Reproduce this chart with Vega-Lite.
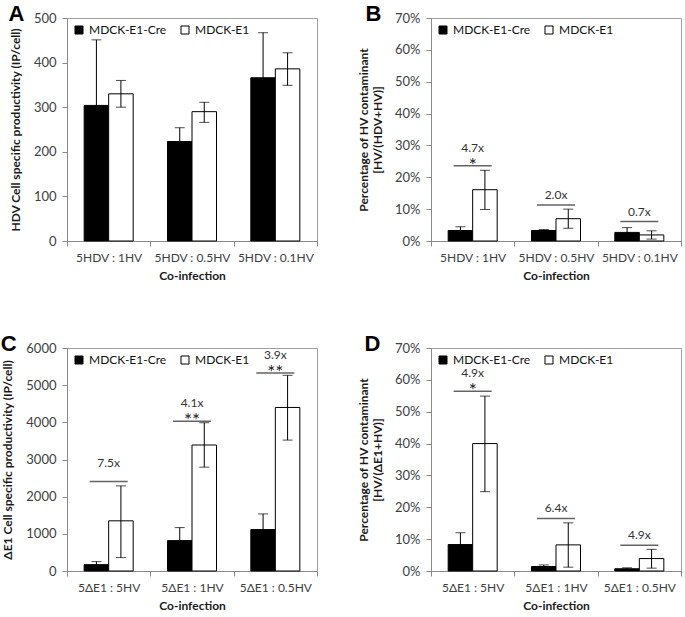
{
  "$schema": "https://vega.github.io/schema/vega-lite/v6.json",
  "background": "white",
  "padding": {"left": 0, "top": 2, "right": 2, "bottom": 2},
  "config": {
    "font": "Lato",
    "view": {"stroke": "#a0a0a0", "strokeWidth": 1},
    "axis": {
      "grid": false,
      "domainColor": "#8a8a8a",
      "tickColor": "#8a8a8a",
      "labelColor": "#404040",
      "labelFont": "Lato",
      "labelFontSize": 13,
      "labelOverlap": false,
      "titleFont": "Lato",
      "titleFontSize": 12,
      "titleFontWeight": "bold",
      "titleColor": "#1a1a1a",
      "tickSize": 5
    },
    "axisX": {"labelFontSize": 12, "labelPadding": 6, "titlePadding": 7, "labelAngle": 0, "tickBand": "extent"},
    "axisY": {"labelPadding": 6, "titlePadding": 11},
    "legend": {
      "title": null,
      "orient": "none",
      "legendX": 6,
      "legendY": 6,
      "direction": "horizontal",
      "symbolType": "square",
      "symbolSize": 64,
      "symbolStrokeColor": "black",
      "symbolStrokeWidth": 1,
      "labelFont": "Lato",
      "labelFontSize": 12,
      "labelColor": "#111111",
      "labelOffset": 4,
      "columnPadding": 12
    },
    "title": {"font": "Liberation Sans", "fontSize": 22, "fontWeight": "bold", "color": "black", "anchor": "start", "frame": "bounds", "baseline": "alphabetic", "offset": -14}
  },
  "resolve": {"scale": {"fill": "independent"}, "legend": {"fill": "independent"}},
  "datasets": {
    "A": [
      {"cond": "5HDV : 1HV", "group": "MDCK-E1-Cre", "value": 304, "lo": 157, "hi": 451},
      {"cond": "5HDV : 1HV", "group": "MDCK-E1", "value": 330, "lo": 300, "hi": 360},
      {"cond": "5HDV : 0.5HV", "group": "MDCK-E1-Cre", "value": 223, "lo": 192, "hi": 254},
      {"cond": "5HDV : 0.5HV", "group": "MDCK-E1", "value": 290, "lo": 266, "hi": 311},
      {"cond": "5HDV : 0.1HV", "group": "MDCK-E1-Cre", "value": 366, "lo": 265, "hi": 467},
      {"cond": "5HDV : 0.1HV", "group": "MDCK-E1", "value": 386, "lo": 349, "hi": 422}
    ],
    "B": [
      {"cond": "5HDV : 1HV", "group": "MDCK-E1-Cre", "value": 0.033, "lo": 0.021, "hi": 0.045},
      {"cond": "5HDV : 1HV", "group": "MDCK-E1", "value": 0.161, "lo": 0.099, "hi": 0.222},
      {"cond": "5HDV : 0.5HV", "group": "MDCK-E1-Cre", "value": 0.033, "lo": 0.030, "hi": 0.036},
      {"cond": "5HDV : 0.5HV", "group": "MDCK-E1", "value": 0.070, "lo": 0.040, "hi": 0.100},
      {"cond": "5HDV : 0.1HV", "group": "MDCK-E1-Cre", "value": 0.027, "lo": 0.012, "hi": 0.042},
      {"cond": "5HDV : 0.1HV", "group": "MDCK-E1", "value": 0.019, "lo": 0.006, "hi": 0.032}
    ],
    "Bann": [
      {"cond": "5HDV : 1HV", "line": 0.236, "fold": "4.7x", "star": "*"},
      {"cond": "5HDV : 0.5HV", "line": 0.113, "fold": "2.0x", "star": null},
      {"cond": "5HDV : 0.1HV", "line": 0.061, "fold": "0.7x", "star": null}
    ],
    "C": [
      {"cond": "5ΔE1 : 5HV", "group": "MDCK-E1-Cre", "value": 171, "lo": 90, "hi": 252},
      {"cond": "5ΔE1 : 5HV", "group": "MDCK-E1", "value": 1350, "lo": 360, "hi": 2290},
      {"cond": "5ΔE1 : 1HV", "group": "MDCK-E1-Cre", "value": 818, "lo": 468, "hi": 1168},
      {"cond": "5ΔE1 : 1HV", "group": "MDCK-E1", "value": 3390, "lo": 2794, "hi": 3989},
      {"cond": "5ΔE1 : 0.5HV", "group": "MDCK-E1-Cre", "value": 1114, "lo": 692, "hi": 1536},
      {"cond": "5ΔE1 : 0.5HV", "group": "MDCK-E1", "value": 4400, "lo": 3522, "hi": 5265}
    ],
    "Cann": [
      {"cond": "5ΔE1 : 5HV", "line": 2410, "fold": "7.5x", "star": ""},
      {"cond": "5ΔE1 : 1HV", "line": 4030, "fold": "4.1x", "star": "**"},
      {"cond": "5ΔE1 : 0.5HV", "line": 5330, "fold": "3.9x", "star": "**"}
    ],
    "D": [
      {"cond": "5ΔE1 : 5HV", "group": "MDCK-E1-Cre", "value": 0.083, "lo": 0.047, "hi": 0.120},
      {"cond": "5ΔE1 : 5HV", "group": "MDCK-E1", "value": 0.400, "lo": 0.249, "hi": 0.549},
      {"cond": "5ΔE1 : 1HV", "group": "MDCK-E1-Cre", "value": 0.014, "lo": 0.010, "hi": 0.019},
      {"cond": "5ΔE1 : 1HV", "group": "MDCK-E1", "value": 0.082, "lo": 0.012, "hi": 0.151},
      {"cond": "5ΔE1 : 0.5HV", "group": "MDCK-E1-Cre", "value": 0.007, "lo": 0.005, "hi": 0.010},
      {"cond": "5ΔE1 : 0.5HV", "group": "MDCK-E1", "value": 0.039, "lo": 0.009, "hi": 0.068}
    ],
    "Dann": [
      {"cond": "5ΔE1 : 5HV", "line": 0.564, "fold": "4.9x", "star": "*"},
      {"cond": "5ΔE1 : 1HV", "line": 0.165, "fold": "6.4x", "star": null},
      {"cond": "5ΔE1 : 0.5HV", "line": 0.081, "fold": "4.9x", "star": null}
    ]
  },
  "columns": 2,
  "spacing": {"column": 39, "row": 50},
  "concat": [
    {
      "title": {"text": "A", "dx": -1},
      "width": 250,
      "height": 223,
      "data": {"name": "A"},
      "encoding": {
        "x": {"field": "cond", "type": "nominal", "scale": {"domain": ["5HDV : 1HV", "5HDV : 0.5HV", "5HDV : 0.1HV"], "paddingInner": 0, "paddingOuter": 0}, "axis": {"title": "Co-infection"}},
        "xOffset": {"field": "group", "type": "nominal", "scale": {"domain": ["MDCK-E1-Cre", "MDCK-E1"], "paddingOuter": 0.7, "paddingInner": 0}}
      },
      "layer": [
        {
          "mark": {"type": "bar", "stroke": "black", "strokeWidth": 1},
          "encoding": {
            "y": {"field": "value", "type": "quantitative", "scale": {"domain": [0, 500]}, "axis": {"title": "HDV Cell specific productivity (IP/cell)", "values": [0, 100, 200, 300, 400, 500]}},
            "fill": {"field": "group", "type": "nominal", "scale": {"domain": ["MDCK-E1-Cre", "MDCK-E1"], "range": ["black", "white"]}}
          }
        },
        {"mark": {"type": "rule", "color": "black", "strokeWidth": 1}, "encoding": {"y": {"field": "lo", "type": "quantitative", "axis": {"title": "HDV Cell specific productivity (IP/cell)", "values": [0, 100, 200, 300, 400, 500]}}, "y2": {"field": "hi"}}},
        {"mark": {"type": "tick", "color": "black", "size": 10, "thickness": 1}, "encoding": {"y": {"field": "hi", "type": "quantitative", "axis": {"title": "HDV Cell specific productivity (IP/cell)", "values": [0, 100, 200, 300, 400, 500]}}}},
        {"mark": {"type": "tick", "color": "black", "size": 10, "thickness": 1}, "encoding": {"y": {"field": "lo", "type": "quantitative", "axis": {"title": "HDV Cell specific productivity (IP/cell)", "values": [0, 100, 200, 300, 400, 500]}}}}
      ]
    },
    {
      "title": {"text": "B", "dx": 8},
      "width": 250,
      "height": 223,
      "encoding": {
        "x": {"field": "cond", "type": "nominal", "scale": {"domain": ["5HDV : 1HV", "5HDV : 0.5HV", "5HDV : 0.1HV"], "paddingInner": 0, "paddingOuter": 0}, "axis": {"title": "Co-infection"}}
      },
      "layer": [
        {
          "data": {"name": "B"},
          "mark": {"type": "bar", "stroke": "black", "strokeWidth": 1},
          "encoding": {
            "xOffset": {"field": "group", "type": "nominal", "scale": {"domain": ["MDCK-E1-Cre", "MDCK-E1"], "paddingOuter": 0.7, "paddingInner": 0}},
            "y": {"field": "value", "type": "quantitative", "scale": {"domain": [0, 0.7]}, "axis": {"title": ["Percentage of HV contaminant", "[HV/(HDV+HV)]"], "format": ".0%", "values": [0, 0.1, 0.2, 0.3, 0.4, 0.5, 0.6, 0.7], "titlePadding": 10}},
            "fill": {"field": "group", "type": "nominal", "scale": {"domain": ["MDCK-E1-Cre", "MDCK-E1"], "range": ["black", "white"]}}
          }
        },
        {"data": {"name": "B"}, "mark": {"type": "rule", "color": "black", "strokeWidth": 1}, "encoding": {"xOffset": {"field": "group", "type": "nominal"}, "y": {"field": "lo", "type": "quantitative", "axis": {"title": ["Percentage of HV contaminant", "[HV/(HDV+HV)]"], "format": ".0%", "values": [0, 0.1, 0.2, 0.3, 0.4, 0.5, 0.6, 0.7], "titlePadding": 10}}, "y2": {"field": "hi"}}},
        {"data": {"name": "B"}, "mark": {"type": "tick", "color": "black", "size": 10, "thickness": 1}, "encoding": {"xOffset": {"field": "group", "type": "nominal"}, "y": {"field": "hi", "type": "quantitative", "axis": {"title": ["Percentage of HV contaminant", "[HV/(HDV+HV)]"], "format": ".0%", "values": [0, 0.1, 0.2, 0.3, 0.4, 0.5, 0.6, 0.7], "titlePadding": 10}}}},
        {"data": {"name": "B"}, "mark": {"type": "tick", "color": "black", "size": 10, "thickness": 1}, "encoding": {"xOffset": {"field": "group", "type": "nominal"}, "y": {"field": "lo", "type": "quantitative", "axis": {"title": ["Percentage of HV contaminant", "[HV/(HDV+HV)]"], "format": ".0%", "values": [0, 0.1, 0.2, 0.3, 0.4, 0.5, 0.6, 0.7], "titlePadding": 10}}}},
        {"data": {"name": "Bann"}, "mark": {"type": "tick", "color": "#222222", "size": 38, "thickness": 1.5}, "encoding": {"y": {"field": "line", "type": "quantitative", "axis": {"title": ["Percentage of HV contaminant", "[HV/(HDV+HV)]"], "format": ".0%", "values": [0, 0.1, 0.2, 0.3, 0.4, 0.5, 0.6, 0.7], "titlePadding": 10}}}},
        {"data": {"name": "Bann"}, "transform": [{"filter": "datum.star != null"}], "mark": {"type": "text", "fontSize": 12, "color": "#333333", "baseline": "alphabetic", "dy": -14}, "encoding": {"y": {"field": "line", "type": "quantitative", "axis": {"title": ["Percentage of HV contaminant", "[HV/(HDV+HV)]"], "format": ".0%", "values": [0, 0.1, 0.2, 0.3, 0.4, 0.5, 0.6, 0.7], "titlePadding": 10}}, "text": {"field": "fold"}}},
        {"data": {"name": "Bann"}, "transform": [{"filter": "datum.star == null"}], "mark": {"type": "text", "fontSize": 12, "color": "#333333", "baseline": "alphabetic", "dy": -6}, "encoding": {"y": {"field": "line", "type": "quantitative", "axis": {"title": ["Percentage of HV contaminant", "[HV/(HDV+HV)]"], "format": ".0%", "values": [0, 0.1, 0.2, 0.3, 0.4, 0.5, 0.6, 0.7], "titlePadding": 10}}, "text": {"field": "fold"}}},
        {"data": {"name": "Bann"}, "transform": [{"filter": "datum.star != null"}], "mark": {"type": "text", "fontSize": 19, "color": "#222222", "baseline": "alphabetic", "dy": 6}, "encoding": {"y": {"field": "line", "type": "quantitative", "axis": {"title": ["Percentage of HV contaminant", "[HV/(HDV+HV)]"], "format": ".0%", "values": [0, 0.1, 0.2, 0.3, 0.4, 0.5, 0.6, 0.7], "titlePadding": 10}}, "text": {"field": "star"}}}
      ]
    },
    {
      "title": {"text": "C", "dx": -1},
      "width": 250,
      "height": 223,
      "encoding": {
        "x": {"field": "cond", "type": "nominal", "scale": {"domain": ["5ΔE1 : 5HV", "5ΔE1 : 1HV", "5ΔE1 : 0.5HV"], "paddingInner": 0, "paddingOuter": 0}, "axis": {"title": "Co-infection"}}
      },
      "layer": [
        {
          "data": {"name": "C"},
          "mark": {"type": "bar", "stroke": "black", "strokeWidth": 1},
          "encoding": {
            "xOffset": {"field": "group", "type": "nominal", "scale": {"domain": ["MDCK-E1-Cre", "MDCK-E1"], "paddingOuter": 0.7, "paddingInner": 0}},
            "y": {"field": "value", "type": "quantitative", "scale": {"domain": [0, 6000]}, "axis": {"title": "ΔE1 Cell specific productivity (IP/cell)", "format": "d", "values": [0, 1000, 2000, 3000, 4000, 5000, 6000]}},
            "fill": {"field": "group", "type": "nominal", "scale": {"domain": ["MDCK-E1-Cre", "MDCK-E1"], "range": ["black", "white"]}}
          }
        },
        {"data": {"name": "C"}, "mark": {"type": "rule", "color": "black", "strokeWidth": 1}, "encoding": {"xOffset": {"field": "group", "type": "nominal"}, "y": {"field": "lo", "type": "quantitative", "axis": {"title": "ΔE1 Cell specific productivity (IP/cell)", "format": "d", "values": [0, 1000, 2000, 3000, 4000, 5000, 6000]}}, "y2": {"field": "hi"}}},
        {"data": {"name": "C"}, "mark": {"type": "tick", "color": "black", "size": 10, "thickness": 1}, "encoding": {"xOffset": {"field": "group", "type": "nominal"}, "y": {"field": "hi", "type": "quantitative", "axis": {"title": "ΔE1 Cell specific productivity (IP/cell)", "format": "d", "values": [0, 1000, 2000, 3000, 4000, 5000, 6000]}}}},
        {"data": {"name": "C"}, "mark": {"type": "tick", "color": "black", "size": 10, "thickness": 1}, "encoding": {"xOffset": {"field": "group", "type": "nominal"}, "y": {"field": "lo", "type": "quantitative", "axis": {"title": "ΔE1 Cell specific productivity (IP/cell)", "format": "d", "values": [0, 1000, 2000, 3000, 4000, 5000, 6000]}}}},
        {"data": {"name": "Cann"}, "mark": {"type": "tick", "color": "#222222", "size": 38, "thickness": 1.5}, "encoding": {"y": {"field": "line", "type": "quantitative", "axis": {"title": "ΔE1 Cell specific productivity (IP/cell)", "format": "d", "values": [0, 1000, 2000, 3000, 4000, 5000, 6000]}}}},
        {"data": {"name": "Cann"}, "transform": [{"filter": "datum.star != null"}], "mark": {"type": "text", "fontSize": 12, "color": "#333333", "baseline": "alphabetic", "dy": -14}, "encoding": {"y": {"field": "line", "type": "quantitative", "axis": {"title": "ΔE1 Cell specific productivity (IP/cell)", "format": "d", "values": [0, 1000, 2000, 3000, 4000, 5000, 6000]}}, "text": {"field": "fold"}}},
        {"data": {"name": "Cann"}, "transform": [{"filter": "datum.star != null"}], "mark": {"type": "text", "fontSize": 19, "color": "#222222", "baseline": "alphabetic", "dy": 6}, "encoding": {"y": {"field": "line", "type": "quantitative", "axis": {"title": "ΔE1 Cell specific productivity (IP/cell)", "format": "d", "values": [0, 1000, 2000, 3000, 4000, 5000, 6000]}}, "text": {"field": "star"}}}
      ]
    },
    {
      "title": {"text": "D", "dx": 7},
      "width": 250,
      "height": 223,
      "encoding": {
        "x": {"field": "cond", "type": "nominal", "scale": {"domain": ["5ΔE1 : 5HV", "5ΔE1 : 1HV", "5ΔE1 : 0.5HV"], "paddingInner": 0, "paddingOuter": 0}, "axis": {"title": "Co-infection"}}
      },
      "layer": [
        {
          "data": {"name": "D"},
          "mark": {"type": "bar", "stroke": "black", "strokeWidth": 1},
          "encoding": {
            "xOffset": {"field": "group", "type": "nominal", "scale": {"domain": ["MDCK-E1-Cre", "MDCK-E1"], "paddingOuter": 0.7, "paddingInner": 0}},
            "y": {"field": "value", "type": "quantitative", "scale": {"domain": [0, 0.7]}, "axis": {"title": ["Percentage of HV contaminant", "[HV/(ΔE1+HV)]"], "format": ".0%", "values": [0, 0.1, 0.2, 0.3, 0.4, 0.5, 0.6, 0.7], "titlePadding": 10}},
            "fill": {"field": "group", "type": "nominal", "scale": {"domain": ["MDCK-E1-Cre", "MDCK-E1"], "range": ["black", "white"]}}
          }
        },
        {"data": {"name": "D"}, "mark": {"type": "rule", "color": "black", "strokeWidth": 1}, "encoding": {"xOffset": {"field": "group", "type": "nominal"}, "y": {"field": "lo", "type": "quantitative", "axis": {"title": ["Percentage of HV contaminant", "[HV/(ΔE1+HV)]"], "format": ".0%", "values": [0, 0.1, 0.2, 0.3, 0.4, 0.5, 0.6, 0.7], "titlePadding": 10}}, "y2": {"field": "hi"}}},
        {"data": {"name": "D"}, "mark": {"type": "tick", "color": "black", "size": 10, "thickness": 1}, "encoding": {"xOffset": {"field": "group", "type": "nominal"}, "y": {"field": "hi", "type": "quantitative", "axis": {"title": ["Percentage of HV contaminant", "[HV/(ΔE1+HV)]"], "format": ".0%", "values": [0, 0.1, 0.2, 0.3, 0.4, 0.5, 0.6, 0.7], "titlePadding": 10}}}},
        {"data": {"name": "D"}, "mark": {"type": "tick", "color": "black", "size": 10, "thickness": 1}, "encoding": {"xOffset": {"field": "group", "type": "nominal"}, "y": {"field": "lo", "type": "quantitative", "axis": {"title": ["Percentage of HV contaminant", "[HV/(ΔE1+HV)]"], "format": ".0%", "values": [0, 0.1, 0.2, 0.3, 0.4, 0.5, 0.6, 0.7], "titlePadding": 10}}}},
        {"data": {"name": "Dann"}, "mark": {"type": "tick", "color": "#222222", "size": 38, "thickness": 1.5}, "encoding": {"y": {"field": "line", "type": "quantitative", "axis": {"title": ["Percentage of HV contaminant", "[HV/(ΔE1+HV)]"], "format": ".0%", "values": [0, 0.1, 0.2, 0.3, 0.4, 0.5, 0.6, 0.7], "titlePadding": 10}}}},
        {"data": {"name": "Dann"}, "transform": [{"filter": "datum.star != null"}], "mark": {"type": "text", "fontSize": 12, "color": "#333333", "baseline": "alphabetic", "dy": -14}, "encoding": {"y": {"field": "line", "type": "quantitative", "axis": {"title": ["Percentage of HV contaminant", "[HV/(ΔE1+HV)]"], "format": ".0%", "values": [0, 0.1, 0.2, 0.3, 0.4, 0.5, 0.6, 0.7], "titlePadding": 10}}, "text": {"field": "fold"}}},
        {"data": {"name": "Dann"}, "transform": [{"filter": "datum.star == null"}], "mark": {"type": "text", "fontSize": 12, "color": "#333333", "baseline": "alphabetic", "dy": -6}, "encoding": {"y": {"field": "line", "type": "quantitative", "axis": {"title": ["Percentage of HV contaminant", "[HV/(ΔE1+HV)]"], "format": ".0%", "values": [0, 0.1, 0.2, 0.3, 0.4, 0.5, 0.6, 0.7], "titlePadding": 10}}, "text": {"field": "fold"}}},
        {"data": {"name": "Dann"}, "transform": [{"filter": "datum.star != null"}], "mark": {"type": "text", "fontSize": 19, "color": "#222222", "baseline": "alphabetic", "dy": 6}, "encoding": {"y": {"field": "line", "type": "quantitative", "axis": {"title": ["Percentage of HV contaminant", "[HV/(ΔE1+HV)]"], "format": ".0%", "values": [0, 0.1, 0.2, 0.3, 0.4, 0.5, 0.6, 0.7], "titlePadding": 10}}, "text": {"field": "star"}}}
      ]
    }
  ]
}
